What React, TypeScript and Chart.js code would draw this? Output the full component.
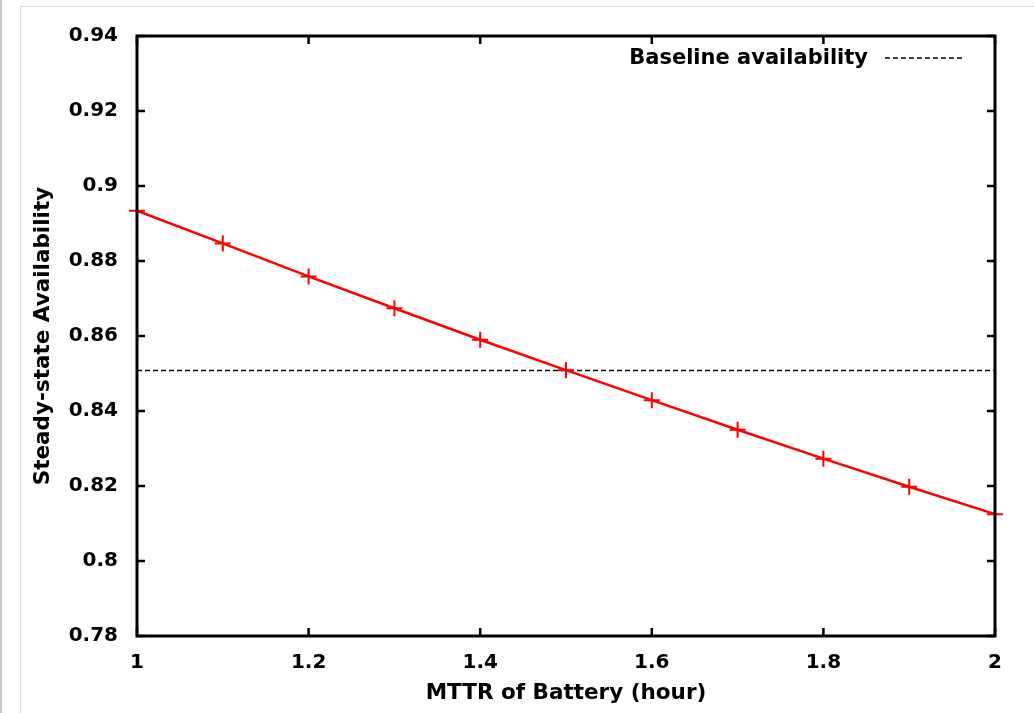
import React, { useEffect, useRef } from "react";
import { Chart, registerables } from "chart.js";

Chart.register(...registerables);

const mttrHours = [1.0, 1.1, 1.2, 1.3, 1.4, 1.5, 1.6, 1.7, 1.8, 1.9, 2.0];
const availability = [0.8934, 0.8847, 0.8759, 0.8674, 0.859, 0.8509, 0.8429, 0.835, 0.8273, 0.8198, 0.8125];
const baselineX = [1.0, 2.0];
const baselineValue = 0.8508;
const baselineLabel = "Baseline availability";
const xTitle = "MTTR of Battery (hour)";
const yTitle = "Steady-state Availability";

const FONT = "'DejaVu Sans', sans-serif";

const framePlugin = {
  id: "gnuplotFrame",
  afterDatasetsDraw(chart: any) {
    const { ctx, chartArea } = chart;
    const { left, right, top, bottom } = chartArea;
    const xs = chart.scales.x;
    const ys = chart.scales.y;
    ctx.save();
    ctx.strokeStyle = "#000";
    ctx.lineWidth = 2.5;
    ctx.beginPath();
    ys.ticks.forEach((t: any) => {
      const y = ys.getPixelForValue(t.value);
      ctx.moveTo(left, y);
      ctx.lineTo(left + 8, y);
      ctx.moveTo(right, y);
      ctx.lineTo(right - 8, y);
    });
    xs.ticks.forEach((t: any) => {
      const x = xs.getPixelForValue(t.value);
      ctx.moveTo(x, bottom);
      ctx.lineTo(x, bottom - 8);
      ctx.moveTo(x, top);
      ctx.lineTo(x, top + 8);
    });
    ctx.stroke();
    ctx.lineWidth = 3;
    ctx.strokeRect(left, top, right - left, bottom - top);

    // legend
    const ds = chart.data.datasets[1];
    ctx.font = `bold 21px ${FONT}`;
    ctx.fillStyle = "#000";
    ctx.textAlign = "right";
    ctx.textBaseline = "middle";
    ctx.fillText(ds.label, 868, 59);
    ctx.lineWidth = 1.6;
    ctx.setLineDash([5, 3]);
    ctx.beginPath();
    ctx.moveTo(885, 58);
    ctx.lineTo(964, 58);
    ctx.stroke();
    ctx.restore();
  },
};

export default function App() {
  const ref = useRef<HTMLCanvasElement>(null);
  useEffect(() => {
    if (!ref.current) return;
    const chart = new Chart(ref.current, {
      type: "line",
      data: {
        datasets: [
          {
            label: "Availability",
            data: mttrHours.map((x, i) => ({ x, y: availability[i] })),
            borderColor: "#ff0000",
            backgroundColor: "#ff0000",
            borderWidth: 2.5,
            pointStyle: "cross",
            pointRadius: 8,
            pointBorderWidth: 2,
            pointBorderColor: "#ff0000",
            fill: false,
            tension: 0,
            clip: false as any,
          },
          {
            label: baselineLabel,
            data: baselineX.map((x) => ({ x, y: baselineValue })),
            borderColor: "#000",
            borderWidth: 1.6,
            borderDash: [5, 3],
            pointRadius: 0,
            fill: false,
          },
        ],
      },
      options: {
        animation: false,
        responsive: false,
        layout: { padding: { left: 0, top: 36, right: 39, bottom: 0 } },
        plugins: { legend: { display: false }, tooltip: { enabled: false } },
        scales: {
          x: {
            type: "linear",
            min: 1,
            max: 2,
            ticks: {
              stepSize: 0.2,
              color: "#000",
              padding: 15,
              font: { family: FONT, size: 20, weight: "bold" },
              callback: (v: any) => String(Number(Number(v).toFixed(2))),
            },
            grid: { display: false, drawTicks: false },
            border: { display: false },
            title: {
              display: true,
              text: xTitle,
              color: "#000",
              font: { family: FONT, size: 21.5, weight: "bold" },
              padding: { top: 0, bottom: 7 },
            },
            afterFit: (s: any) => {
              s.height = 77;
            },
          },
          y: {
            type: "linear",
            min: 0.78,
            max: 0.94,
            ticks: {
              stepSize: 0.02,
              color: "#000",
              padding: 19,
              font: { family: FONT, size: 20, weight: "bold" },
              callback: (v: any) => String(Number(Number(v).toFixed(2))),
            },
            grid: { display: false, drawTicks: false },
            border: { display: false },
            title: {
              display: true,
              text: yTitle,
              color: "#000",
              font: { family: FONT, size: 21.5, weight: "bold" },
              padding: { top: 31, bottom: 0 },
            },
            afterFit: (s: any) => {
              s.width = 137;
            },
          },
        },
      },
      plugins: [framePlugin],
    });
    return () => chart.destroy();
  }, []);

  return (
    <div style={{ position: "absolute", left: 0, top: 0, width: 1034, height: 713, background: "#fff", overflow: "hidden" }}>
      <div style={{ position: "absolute", left: 0, top: 0, width: 2, height: 713, background: "#c8c8c8" }} />
      <div style={{ position: "absolute", left: 20, top: 6, width: 1014, height: 707, borderLeft: "1px solid #dcdcdc", borderTop: "1px solid #dcdcdc" }} />
      <canvas ref={ref} width={1034} height={713} style={{ position: "absolute", left: 0, top: 0 }} />
    </div>
  );
}
